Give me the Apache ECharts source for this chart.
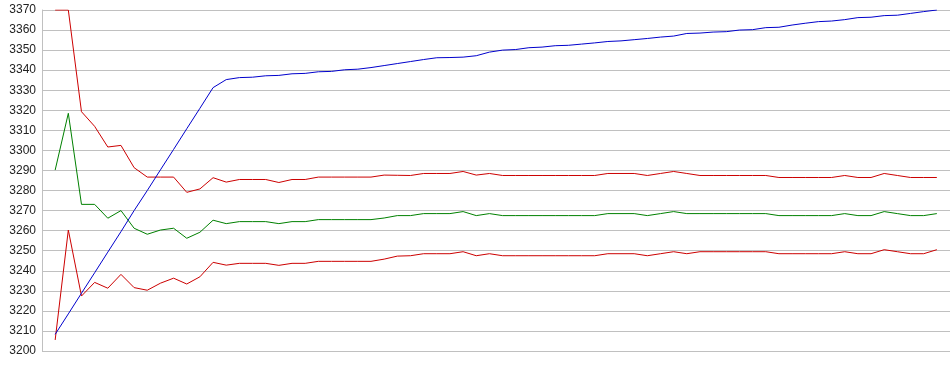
<!DOCTYPE html>
<html>
<head>
<meta charset="utf-8">
<script src="https://cdn.jsdelivr.net/npm/echarts@6/dist/echarts.min.js"></script>
<style>
html,body{margin:0;padding:0;background:#fff;}
#chart{width:950px;height:375px;}
</style>
</head>
<body>
<div id="chart"></div>
<script>
// y-axis tick labels (3200..3370 step 10)
const yMin = 3200;
const yMax = 3370;
const yStep = 10;

// upper band (red)
const upperBand = [
  3370, 3370, 3319.3, 3312, 3301.7, 3302.5, 3291.4, 3286.7, 3286.7, 3286.7,
  3279.1, 3280.8, 3286.4, 3284.2, 3285.5, 3285.5, 3285.5, 3284, 3285.5, 3285.5,
  3286.7, 3286.7, 3286.7, 3286.7, 3286.7, 3287.7, 3287.6, 3287.5, 3288.5, 3288.5,
  3288.5, 3289.5, 3287.7, 3288.5, 3287.5, 3287.5, 3287.5, 3287.5, 3287.5, 3287.5,
  3287.5, 3287.5, 3288.5, 3288.5, 3288.5, 3287.5, 3288.5, 3289.5, 3288.5, 3287.5,
  3287.5, 3287.5, 3287.5, 3287.5, 3287.5, 3286.5, 3286.5, 3286.5, 3286.5, 3286.5,
  3287.5, 3286.5, 3286.5, 3288.5, 3287.5, 3286.5, 3286.5, 3286.5
];

// middle line (green)
const middle = [
  3290.2, 3318.5, 3273.1, 3273.1, 3266.2, 3270, 3261.2, 3258.2, 3260.3, 3261.2,
  3256.2, 3259.2, 3265.2, 3263.5, 3264.5, 3264.5, 3264.5, 3263.5, 3264.5, 3264.5,
  3265.5, 3265.5, 3265.5, 3265.5, 3265.5, 3266.3, 3267.5, 3267.5, 3268.5, 3268.5,
  3268.5, 3269.5, 3267.5, 3268.5, 3267.5, 3267.5, 3267.5, 3267.5, 3267.5, 3267.5,
  3267.5, 3267.5, 3268.5, 3268.5, 3268.5, 3267.5, 3268.5, 3269.5, 3268.5, 3268.5,
  3268.5, 3268.5, 3268.5, 3268.5, 3268.5, 3267.5, 3267.5, 3267.5, 3267.5, 3267.5,
  3268.5, 3267.5, 3267.5, 3269.5, 3268.5, 3267.5, 3267.5, 3268.5
];

// lower band (red)
const lowerBand = [
  3205.5, 3260.3, 3227.4, 3234.2, 3231.3, 3238.2, 3231.6, 3230.3, 3233.8, 3236.3,
  3233.4, 3237, 3244.2, 3242.8, 3243.7, 3243.7, 3243.7, 3242.7, 3243.7, 3243.7,
  3244.7, 3244.7, 3244.7, 3244.7, 3244.7, 3245.8, 3247.3, 3247.5, 3248.5, 3248.5,
  3248.5, 3249.5, 3247.5, 3248.5, 3247.5, 3247.5, 3247.5, 3247.5, 3247.5, 3247.5,
  3247.5, 3247.5, 3248.5, 3248.5, 3248.5, 3247.5, 3248.5, 3249.5, 3248.5, 3249.5,
  3249.5, 3249.5, 3249.5, 3249.5, 3249.5, 3248.5, 3248.5, 3248.5, 3248.5, 3248.5,
  3249.5, 3248.5, 3248.5, 3250.5, 3249.5, 3248.5, 3248.5, 3250.5
];

// rising line (blue)
const rising = [
  3208.3, 3218.5, 3228.8, 3239, 3249.3, 3259.5, 3270, 3280, 3290.3, 3300.5,
  3310.8, 3321, 3331.3, 3335.3, 3336.3, 3336.5, 3337.2, 3337.4, 3338.2, 3338.4,
  3339.2, 3339.4, 3340.2, 3340.5, 3341.3, 3342.3, 3343.3, 3344.3, 3345.3, 3346.2,
  3346.3, 3346.5, 3347.2, 3349, 3350, 3350.3, 3351.2, 3351.5, 3352.2, 3352.4,
  3353, 3353.6, 3354.3, 3354.6, 3355.2, 3355.8, 3356.5, 3357, 3358.3, 3358.5,
  3359, 3359.2, 3360, 3360.2, 3361.2, 3361.4, 3362.5, 3363.4, 3364.2, 3364.5,
  3365.2, 3366.2, 3366.4, 3367.2, 3367.4, 3368.3, 3369.2, 3370
];

// x range: points sit at positions 1..N on a 0..N+1 axis
const xMin = 0;
const xMax = rising.length + 1;

function toPairs(arr) { return arr.map((v, i) => [i + 1, v]); }

const chart = echarts.init(document.getElementById('chart'), null, {renderer: 'canvas'});
const lineStyle = (c) => ({ color: c, width: 1 });
chart.setOption({
  animation: false,
  backgroundColor: '#ffffff',
  grid: { left: 42, right: 0, top: 10, bottom: 24, containLabel: false },
  xAxis: {
    type: 'value', min: xMin, max: xMax,
    axisLine: { show: false }, axisTick: { show: false },
    axisLabel: { show: false }, splitLine: { show: false }
  },
  yAxis: {
    type: 'value', min: yMin, max: yMax, interval: yStep,
    axisLine: { show: true, lineStyle: { color: '#c0c0c0', width: 1 } },
    axisTick: { show: false },
    axisLabel: {
      color: '#222', fontFamily: 'Liberation Sans, Arial, sans-serif', fontSize: 12, margin: 6,
      formatter: (v) => String(v)
    },
    splitLine: { show: true, lineStyle: { color: '#c0c0c0', width: 1 } }
  },
  series: [
    { type: 'line', data: toPairs(upperBand), showSymbol: false, lineStyle: lineStyle('#cc0000'), itemStyle: {color: '#cc0000'} },
    { type: 'line', data: toPairs(middle), showSymbol: false, lineStyle: lineStyle('#008000'), itemStyle: {color: '#008000'} },
    { type: 'line', data: toPairs(lowerBand), showSymbol: false, lineStyle: lineStyle('#cc0000'), itemStyle: {color: '#cc0000'} },
    { type: 'line', data: toPairs(rising), showSymbol: false, lineStyle: lineStyle('#0000cc'), itemStyle: {color: '#0000cc'} }
  ]
});
</script>
</body>
</html>
